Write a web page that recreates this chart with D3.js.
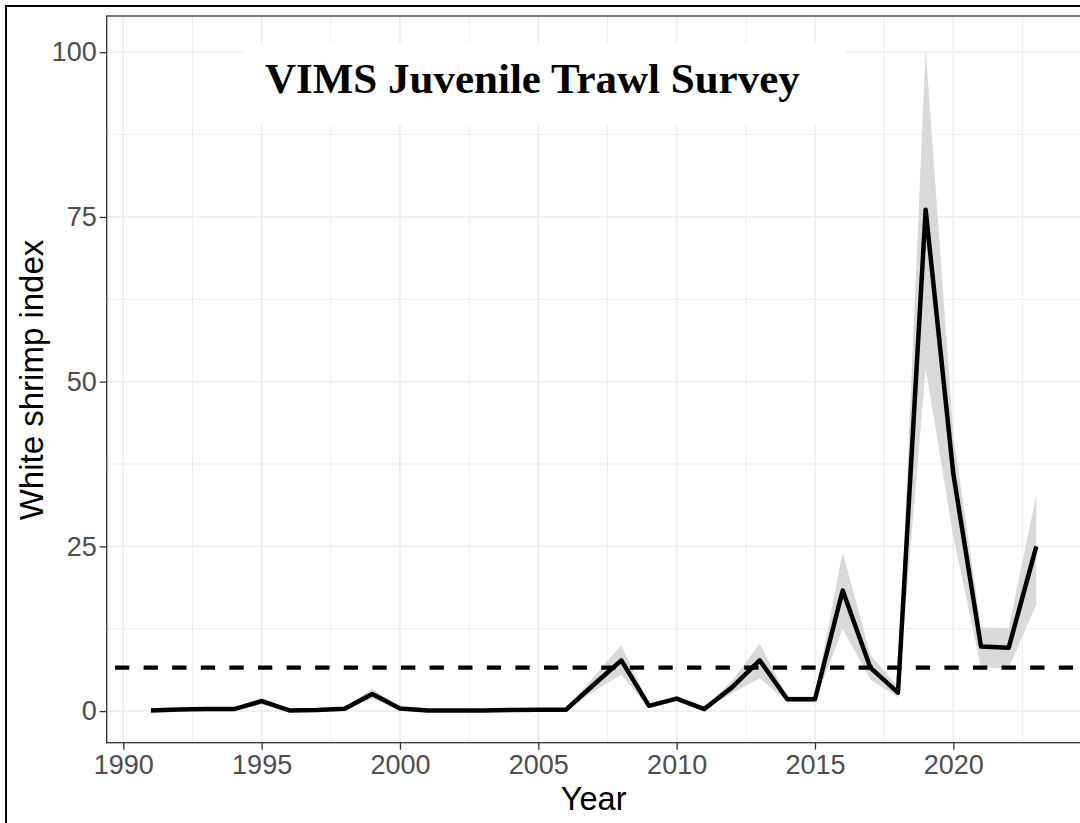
<!DOCTYPE html>
<html>
<head>
<meta charset="utf-8">
<script src="https://cdn.jsdelivr.net/npm/d3@7"></script>
<style>
  body { margin: 0; background: #fff; }
  svg { display: block; }
</style>
</head>
<body>
<div id="chart"></div>
<script>
// white shrimp index, VIMS juvenile trawl survey
const years = [1991, 1992, 1993, 1994, 1995, 1996, 1997, 1998, 1999, 2000,
  2001, 2002, 2003, 2004, 2005, 2006, 2007, 2008, 2009, 2010,
  2011, 2012, 2013, 2014, 2015, 2016, 2017, 2018, 2019, 2020,
  2021, 2022, 2023];
const index = [0.1, 0.25, 0.3, 0.3, 1.5, 0.1, 0.15, 0.35, 2.6, 0.4,
  0.1, 0.1, 0.1, 0.15, 0.2, 0.2, 4.0, 7.7, 0.8, 1.9,
  0.3, 3.6, 7.7, 1.8, 1.8, 18.3, 6.6, 2.8, 76.1, 36.0,
  9.8, 9.6, 25.0];
const lower = [0.0, 0.1, 0.15, 0.15, 1.0, 0.0, 0.05, 0.2, 1.9, 0.25,
  0.0, 0.0, 0.0, 0.05, 0.1, 0.1, 3.0, 5.5, 0.5, 1.5,
  0.2, 2.7, 5.0, 1.4, 1.4, 12.5, 4.8, 2.1, 52.0, 26.5,
  6.6, 6.5, 16.2];
const upper = [0.25, 0.4, 0.45, 0.45, 2.1, 0.25, 0.3, 0.55, 3.4, 0.6,
  0.2, 0.2, 0.2, 0.3, 0.35, 0.35, 5.2, 10.0, 1.1, 2.3,
  0.45, 4.6, 10.2, 2.2, 2.2, 24.2, 8.6, 3.6, 100.5, 42.0,
  12.7, 12.6, 32.8];
const meanLine = 6.6;
const xTicks = [1990, 1995, 2000, 2005, 2010, 2015, 2020];
const xMinor = [1992.5, 1997.5, 2002.5, 2007.5, 2012.5, 2017.5, 2022.5];
const yTicks = [0, 25, 50, 75, 100];
const yMinor = [12.5, 37.5, 62.5, 87.5];

const width = 1080;
const height = 823;
const panel = { left: 106.7, top: 16, right: 1080.6, bottom: 742.7 };

const svg = d3.select("#chart")
  .append("svg")
  .attr("width", width)
  .attr("height", height);

svg.append("rect").attr("width", width).attr("height", height).attr("fill", "#fff");

// outer frame (only left and top edges fall inside the picture)
svg.append("rect")
  .attr("x", 6).attr("y", 6)
  .attr("width", 1200).attr("height", 1000)
  .attr("fill", "none")
  .attr("stroke", "#000")
  .attr("stroke-width", 2);

const x = d3.scaleLinear().domain([1989.4, 2024.6]).range([panel.left, panel.right]);
const y = d3.scaleLinear().domain([-4.8, 105.5]).range([panel.bottom, panel.top]);

const rows = years.map((yr, i) => ({ year: yr, v: index[i], lo: lower[i], hi: upper[i] }));

const plot = svg.append("g");
plot.append("clipPath").attr("id", "clip")
  .append("rect")
  .attr("x", panel.left).attr("y", panel.top)
  .attr("width", panel.right - panel.left)
  .attr("height", panel.bottom - panel.top);

const inner = plot.append("g").attr("clip-path", "url(#clip)");

// grid lines
inner.selectAll(".ygm").data(yMinor).join("line")
  .attr("x1", panel.left).attr("x2", panel.right)
  .attr("y1", d => y(d)).attr("y2", d => y(d))
  .attr("stroke", "#ebebeb").attr("stroke-width", 0.9);
inner.selectAll(".xgm").data(xMinor).join("line")
  .attr("y1", panel.top).attr("y2", panel.bottom)
  .attr("x1", d => x(d)).attr("x2", d => x(d))
  .attr("stroke", "#ebebeb").attr("stroke-width", 0.9);
inner.selectAll(".yg").data(yTicks).join("line")
  .attr("x1", panel.left).attr("x2", panel.right)
  .attr("y1", d => y(d)).attr("y2", d => y(d))
  .attr("stroke", "#ebebeb").attr("stroke-width", 1.5);
inner.selectAll(".xg").data(xTicks).join("line")
  .attr("y1", panel.top).attr("y2", panel.bottom)
  .attr("x1", d => x(d)).attr("x2", d => x(d))
  .attr("stroke", "#ebebeb").attr("stroke-width", 1.5);

// confidence ribbon
const band = d3.area()
  .x(d => x(d.year))
  .y0(d => y(d.lo))
  .y1(d => y(d.hi));
inner.append("path")
  .datum(rows)
  .attr("d", band)
  .attr("fill", "#d9d9d9");

// long-term mean
inner.append("line")
  .attr("x1", panel.left).attr("x2", panel.right)
  .attr("y1", y(meanLine)).attr("y2", y(meanLine))
  .attr("stroke", "#000")
  .attr("stroke-width", 4.2)
  .attr("stroke-dasharray", "14.3,14.3")
  .attr("stroke-dashoffset", 20.3);

// index line
const line = d3.line()
  .x(d => x(d.year))
  .y(d => y(d.v));
inner.append("path")
  .datum(rows)
  .attr("d", line)
  .attr("fill", "none")
  .attr("stroke", "#000")
  .attr("stroke-width", 4.5)
  .attr("stroke-linejoin", "round");

// title with white label box
inner.append("rect")
  .attr("x", 243).attr("y", 43)
  .attr("width", 846 - 243).attr("height", 125 - 43)
  .attr("fill", "#fff");
inner.append("text")
  .attr("x", 265).attr("y", 93)
  .attr("font-family", "'Times New Roman', 'Liberation Serif', serif")
  .attr("font-weight", "bold")
  .attr("font-size", 43)
  .attr("fill", "#000")
  .text("VIMS Juvenile Trawl Survey");

// panel border, right edge sits just past the picture
plot.append("rect")
  .attr("x", panel.left).attr("y", panel.top)
  .attr("width", panel.right - panel.left + 6)
  .attr("height", panel.bottom - panel.top)
  .attr("fill", "none")
  .attr("stroke", "#333")
  .attr("stroke-width", 1.3);

// axes
const xAxis = svg.append("g")
  .attr("transform", `translate(0,${panel.bottom})`)
  .call(d3.axisBottom(x).tickValues(xTicks).tickFormat(d3.format("d")).tickSize(7).tickPadding(5));
const yAxis = svg.append("g")
  .attr("transform", `translate(${panel.left},0)`)
  .call(d3.axisLeft(y).tickValues(yTicks).tickSize(7).tickPadding(3));

[xAxis, yAxis].forEach(ax => {
  ax.select(".domain").remove();
  ax.selectAll(".tick line").attr("stroke", "#333").attr("stroke-width", 1.3);
  ax.selectAll(".tick text")
    .attr("fill", "#4d4d4d")
    .attr("font-family", "Arial, 'Liberation Sans', sans-serif")
    .attr("font-size", 27);
});

// axis titles
svg.append("text")
  .attr("x", (panel.left + panel.right) / 2)
  .attr("y", 810)
  .attr("text-anchor", "middle")
  .attr("font-family", "Arial, 'Liberation Sans', sans-serif")
  .attr("font-size", 32.5)
  .attr("fill", "#000")
  .text("Year");
svg.append("text")
  .attr("transform", "translate(43,380) rotate(-90)")
  .attr("text-anchor", "middle")
  .attr("font-family", "Arial, 'Liberation Sans', sans-serif")
  .attr("font-size", 33)
  .attr("fill", "#000")
  .text("White shrimp index");
</script>
</body>
</html>
